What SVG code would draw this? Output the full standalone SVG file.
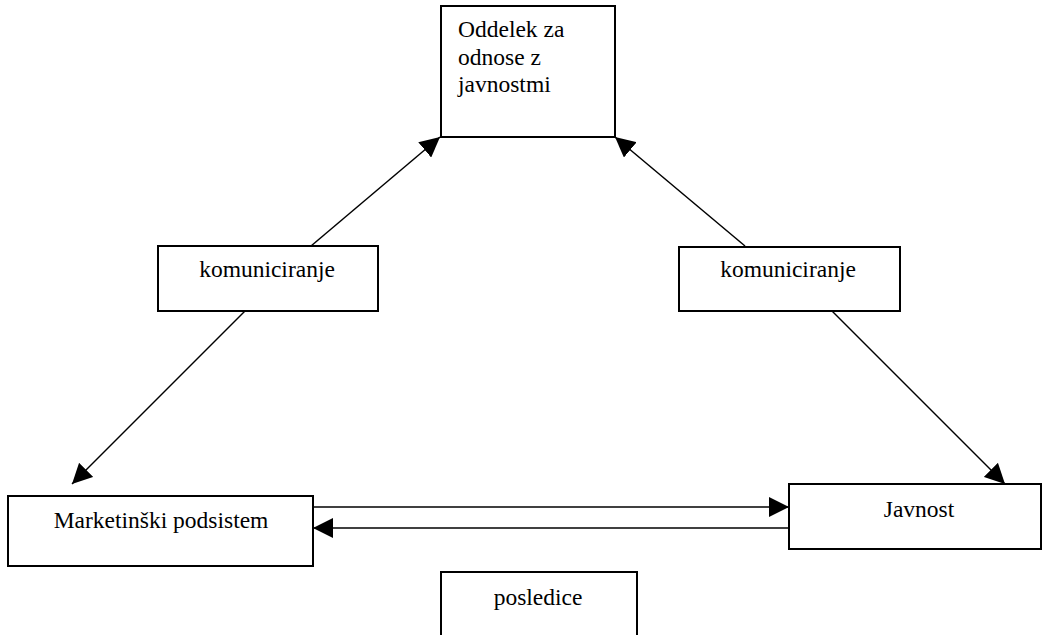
<svg xmlns="http://www.w3.org/2000/svg" width="1043" height="635" viewBox="0 0 1043 635">
<style>
.box{fill:#fff;stroke:#000;stroke-width:2}
.t{font-family:"Liberation Serif","Times New Roman",serif;font-size:23.5px;fill:#000}
.c{text-anchor:middle}
.ln{stroke:#000;stroke-width:1.5;fill:none}
</style>
<defs>
<marker id="ah" markerUnits="userSpaceOnUse" markerWidth="20" markerHeight="20" refX="20" refY="10" orient="auto" viewBox="0 0 20 20">
<path d="M0,0 L20,10 L0,20 z" fill="#000"/>
</marker>
</defs>
<rect width="1043" height="635" fill="#fff"/>
<g id="connectors">
<line class="ln" x1="311" y1="246" x2="440" y2="137" marker-end="url(#ah)"/>
<line class="ln" x1="745" y1="246" x2="615" y2="137" marker-end="url(#ah)"/>
<line class="ln" x1="245" y1="311" x2="72" y2="484" marker-end="url(#ah)"/>
<line class="ln" x1="832" y1="311" x2="1005" y2="484" marker-end="url(#ah)"/>
<line class="ln" x1="311" y1="507" x2="789" y2="507" marker-end="url(#ah)"/>
<line class="ln" x1="789" y1="528" x2="313" y2="528" marker-end="url(#ah)"/>
</g>
<g id="oddelek">
<rect class="box" x="441" y="6" width="174" height="131"/>
<text class="t" x="458" y="37">Oddelek za</text>
<text class="t" x="458" y="64.5">odnose z</text>
<text class="t" x="458" y="92">javnostmi</text>
</g>
<g id="komuniciranje-levo">
<rect class="box" x="158" y="246" width="220" height="65"/>
<text class="t c" x="267" y="277">komuniciranje</text>
</g>
<g id="komuniciranje-desno">
<rect class="box" x="679" y="247" width="221" height="64"/>
<text class="t c" x="788" y="277">komuniciranje</text>
</g>
<g id="marketinski">
<rect class="box" x="8" y="496" width="305" height="70"/>
<text class="t c" x="161" y="528">Marketinški podsistem</text>
</g>
<g id="javnost">
<rect class="box" x="789" y="484" width="252" height="65"/>
<text class="t c" x="919" y="517">Javnost</text>
</g>
<g id="posledice">
<rect class="box" x="441" y="572" width="196" height="70"/>
<text class="t c" x="538" y="605">posledice</text>
</g>
</svg>
